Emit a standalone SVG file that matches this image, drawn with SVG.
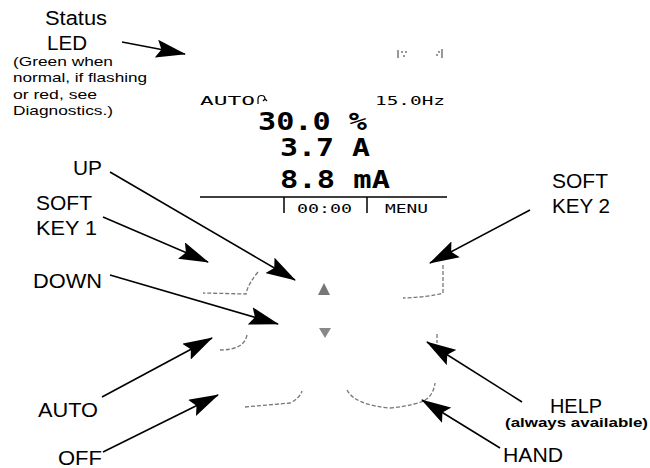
<svg xmlns="http://www.w3.org/2000/svg" width="650" height="468" viewBox="0 0 650 468">
<style>
.lbl{font-family:"Liberation Sans",Arial,sans-serif;font-size:20px;fill:#000}
.note{font-family:"Liberation Sans",Arial,sans-serif;font-size:13px;fill:#000}
.noteb{font-family:"Liberation Sans",Arial,sans-serif;font-size:13px;font-weight:bold;fill:#000}
.lcd{font-family:"DejaVu Sans Mono","Liberation Mono",monospace;fill:#000}
.big{font-size:24px;font-weight:bold}
.sm{font-size:13px}
.conn{stroke:#000;stroke-width:1.6;fill:none;marker-end:url(#ah)}
.faint{stroke:#777;stroke-width:1.3;fill:none;stroke-dasharray:4 2}
.rule{stroke:#000;stroke-width:1.5;fill:none}
</style>
<defs>
<marker id="ah" viewBox="0 0 30 18" refX="29" refY="9" markerWidth="30" markerHeight="18" markerUnits="userSpaceOnUse" orient="auto">
<path d="M0,0 L30,9 L0,18 L5,9 z" fill="#000"/>
</marker>
</defs>
<rect width="650" height="468" fill="#fff"/>

<g id="status-led">
<text class="lbl" x="45" y="25" textLength="62" lengthAdjust="spacingAndGlyphs">Status</text>
<text class="lbl" x="47" y="50" textLength="40" lengthAdjust="spacingAndGlyphs">LED</text>
<text class="note" x="13" y="66" textLength="100" lengthAdjust="spacingAndGlyphs">(Green when</text>
<text class="note" x="13" y="82" textLength="134" lengthAdjust="spacingAndGlyphs">normal, if flashing</text>
<text class="note" x="13" y="99" textLength="84" lengthAdjust="spacingAndGlyphs">or red, see</text>
<text class="note" x="13" y="115" textLength="100" lengthAdjust="spacingAndGlyphs">Diagnostics.)</text>
</g>

<g id="led-indicator" fill="#999">
<rect x="397" y="50" width="2" height="8"/>
<rect x="401" y="51" width="2" height="2"/>
<rect x="405" y="51" width="2" height="2"/>
<rect x="403" y="55" width="2" height="2"/>
<rect x="438" y="51" width="2" height="2"/>
<rect x="441" y="49" width="2" height="9"/>
<rect x="436" y="54" width="2" height="2"/>
</g>

<g id="display">
<text class="lcd sm" x="200" y="105" textLength="55" lengthAdjust="spacingAndGlyphs">AUTO</text>
<path d="M258,104 L258,99 A3.5,3.5 0 1 1 265,99 M265,99 L263,101 M265,99 L267,101" stroke="#000" stroke-width="1.2" fill="none"/>
<text class="lcd sm" x="375" y="105" textLength="70" lengthAdjust="spacingAndGlyphs">15.0Hz</text>
<text class="lcd big" x="258" y="130" textLength="109" lengthAdjust="spacingAndGlyphs">30.0 %</text>
<text class="lcd big" x="280" y="156" textLength="90" lengthAdjust="spacingAndGlyphs">3.7 A</text>
<text class="lcd big" x="280" y="188" textLength="110" lengthAdjust="spacingAndGlyphs">8.8 mA</text>
<path class="rule" d="M200,197 L447,197 M284,197 L284,213 M367,197 L367,213"/>
<text class="lcd sm" x="297" y="213" textLength="55" lengthAdjust="spacingAndGlyphs">00:00</text>
<text class="lcd sm" x="385" y="213" textLength="43" lengthAdjust="spacingAndGlyphs">MENU</text>
</g>

<g id="keypad">
<path class="faint" d="M258,272 Q248,284 246,294 L203,293"/>
<path class="faint" d="M443,265 L443,293 Q430,297 403,298"/>
<path class="faint" d="M247,335 Q244,350 220,350"/>
<path class="faint" d="M437,334 L437,343"/>
<path class="faint" d="M245,407 L290,403 Q300,398 302,391"/>
<path class="faint" d="M347,390 Q355,405 390,408 Q420,405 428,398 Q434,392 435,383"/>
<path d="M324,283 L318,295 L330,295 z" fill="#777"/>
<path d="M319,328 L331,328 L325,338 z" fill="#888"/>
</g>

<g id="label-up"><text class="lbl" x="73" y="175" textLength="29" lengthAdjust="spacingAndGlyphs">UP</text></g>
<g id="label-softkey1">
<text class="lbl" x="36" y="210" textLength="56" lengthAdjust="spacingAndGlyphs">SOFT</text>
<text class="lbl" x="36" y="235" textLength="61" lengthAdjust="spacingAndGlyphs">KEY 1</text>
</g>
<g id="label-down"><text class="lbl" x="33" y="288" textLength="69" lengthAdjust="spacingAndGlyphs">DOWN</text></g>
<g id="label-auto"><text class="lbl" x="38" y="417" textLength="60" lengthAdjust="spacingAndGlyphs">AUTO</text></g>
<g id="label-off"><text class="lbl" x="58" y="465" textLength="44" lengthAdjust="spacingAndGlyphs">OFF</text></g>
<g id="label-softkey2">
<text class="lbl" x="552" y="188" textLength="56" lengthAdjust="spacingAndGlyphs">SOFT</text>
<text class="lbl" x="552" y="213" textLength="58" lengthAdjust="spacingAndGlyphs">KEY 2</text>
</g>
<g id="label-help">
<text class="lbl" x="550" y="413" textLength="52" lengthAdjust="spacingAndGlyphs">HELP</text>
<text class="noteb" x="505" y="427" textLength="143" lengthAdjust="spacingAndGlyphs">(always available)</text>
</g>
<g id="label-hand"><text class="lbl" x="503" y="462" textLength="60" lengthAdjust="spacingAndGlyphs">HAND</text></g>

<g id="connectors">
<path class="conn" d="M122,42 L185,54"/>
<path class="conn" d="M110,172 L295,280"/>
<path class="conn" d="M103,217 L208,262"/>
<path class="conn" d="M110,275 L278,324"/>
<path class="conn" d="M102,397 L212,338"/>
<path class="conn" d="M103,452 L218,395"/>
<path class="conn" d="M530,210 L430,263"/>
<path class="conn" d="M522,402 L427,342"/>
<path class="conn" d="M500,448 L422,400"/>
</g>
</svg>
